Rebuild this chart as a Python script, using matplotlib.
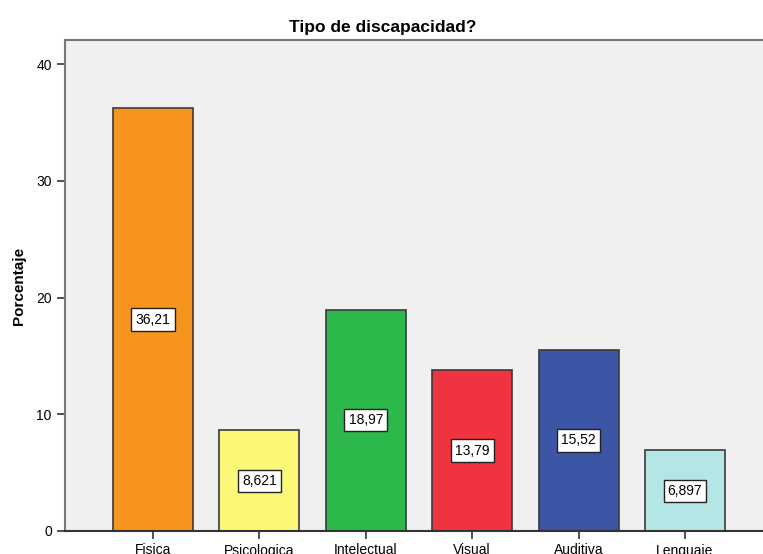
import matplotlib
matplotlib.use('Agg')
import matplotlib.pyplot as plt

plt.rcParams['font.family'] = ['Liberation Sans', 'DejaVu Sans']

categories = ['Fisica', 'Psicologica', 'Intelectual', 'Visual', 'Auditiva', 'Lenguaje']
values = [36.21, 8.621, 18.97, 13.79, 15.52, 6.897]
labels = ['36,21', '8,621', '18,97', '13,79', '15,52', '6,897']
colors = ['#F7941E', '#FBF777', '#2DB84B', '#EF3340', '#3C55A5', '#B4E6E6']

fig = plt.figure(figsize=(7.63, 5.54), dpi=100)
ax = fig.add_axes([65 / 763, 23 / 554, 708 / 763, 491 / 554])
ax.set_facecolor('#F0F0F0')

x = range(len(categories))
ax.bar(x, values, width=0.75, color=colors, edgecolor='#3A3A3A', linewidth=1.2, zorder=2)
for xi, v, lab in zip(x, values, labels):
    ax.text(xi, v / 2, lab, ha='center', va='center', fontsize=10, zorder=3,
            bbox=dict(boxstyle='square,pad=0.3', fc='white', ec='#222222', lw=1))

ax.set_xlim(-0.827, 5.827)
ax.set_ylim(0, 42.06)
ax.set_xticks(list(x))
ax.set_xticklabels(categories, fontsize=10)
ax.set_yticks([0, 10, 20, 30, 40])
ax.tick_params(axis='both', direction='out', length=6, width=1.2, color='#333333', labelsize=10)
ax.tick_params(axis='x', pad=3)
for side in ['left', 'top', 'right']:
    ax.spines[side].set_color('#777777')
    ax.spines[side].set_linewidth(1.5)
ax.spines['bottom'].set_color('#333333')
ax.spines['bottom'].set_linewidth(1.5)

ax.set_ylabel('Porcentaje', fontsize=11, fontweight='bold')
ax.yaxis.set_label_coords(-0.055, 0.5)
fig.text(0.502, 0.951, 'Tipo de discapacidad?', ha='center', va='center',
         fontsize=12.5, fontweight='bold')

fig.savefig('out.png', dpi=100)
